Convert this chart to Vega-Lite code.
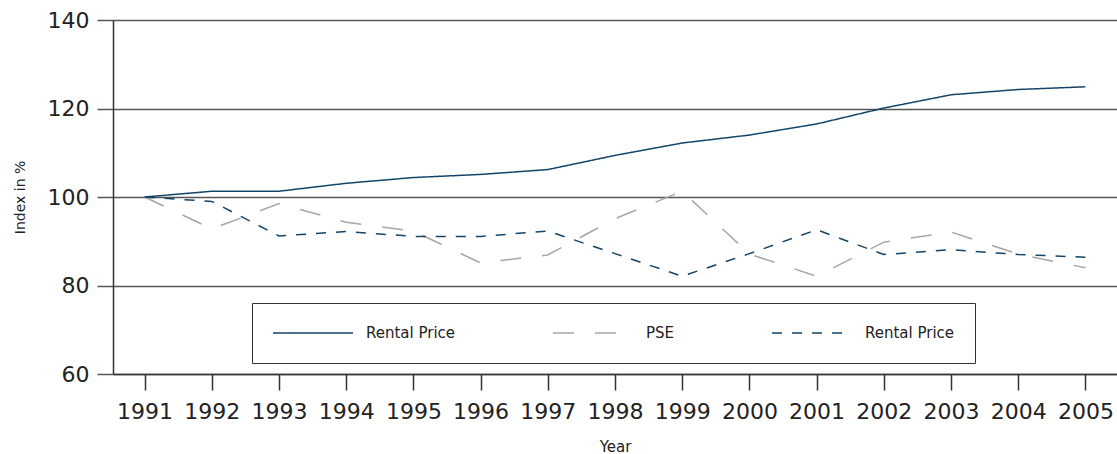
{
  "$schema": "https://vega.github.io/schema/vega-lite/v6.json",
  "autosize": {"type": "none"},
  "padding": {"left": 113, "top": 20, "right": 0, "bottom": 80},
  "width": 1004,
  "height": 354,
  "background": "white",
  "data": {
    "values": [
      {"year": "1991", "series": "Rental Price", "value": 100},
      {"year": "1992", "series": "Rental Price", "value": 101.3},
      {"year": "1993", "series": "Rental Price", "value": 101.3},
      {"year": "1994", "series": "Rental Price", "value": 103.1},
      {"year": "1995", "series": "Rental Price", "value": 104.4},
      {"year": "1996", "series": "Rental Price", "value": 105.1},
      {"year": "1997", "series": "Rental Price", "value": 106.2},
      {"year": "1998", "series": "Rental Price", "value": 109.4},
      {"year": "1999", "series": "Rental Price", "value": 112.2},
      {"year": "2000", "series": "Rental Price", "value": 114.0},
      {"year": "2001", "series": "Rental Price", "value": 116.5},
      {"year": "2002", "series": "Rental Price", "value": 120.1},
      {"year": "2003", "series": "Rental Price", "value": 123.1},
      {"year": "2004", "series": "Rental Price", "value": 124.3},
      {"year": "2005", "series": "Rental Price", "value": 124.9},
      {"year": "1991", "series": "PSE", "value": 100},
      {"year": "1992", "series": "PSE", "value": 92.8},
      {"year": "1993", "series": "PSE", "value": 98.5},
      {"year": "1994", "series": "PSE", "value": 94.3},
      {"year": "1995", "series": "PSE", "value": 92.3},
      {"year": "1996", "series": "PSE", "value": 85.1},
      {"year": "1997", "series": "PSE", "value": 86.9},
      {"year": "1998", "series": "PSE", "value": 95.1},
      {"year": "1999", "series": "PSE", "value": 101.3},
      {"year": "2000", "series": "PSE", "value": 87.1},
      {"year": "2001", "series": "PSE", "value": 82.1},
      {"year": "2002", "series": "PSE", "value": 89.8},
      {"year": "2003", "series": "PSE", "value": 92.1},
      {"year": "2004", "series": "PSE", "value": 87.1},
      {"year": "2005", "series": "PSE", "value": 84.0},
      {"year": "1991", "series": "Rental Price 2", "value": 100},
      {"year": "1992", "series": "Rental Price 2", "value": 99.0},
      {"year": "1993", "series": "Rental Price 2", "value": 91.2},
      {"year": "1994", "series": "Rental Price 2", "value": 92.2},
      {"year": "1995", "series": "Rental Price 2", "value": 91.1},
      {"year": "1996", "series": "Rental Price 2", "value": 91.1},
      {"year": "1997", "series": "Rental Price 2", "value": 92.3},
      {"year": "1998", "series": "Rental Price 2", "value": 87.2},
      {"year": "1999", "series": "Rental Price 2", "value": 82.1},
      {"year": "2000", "series": "Rental Price 2", "value": 87.2},
      {"year": "2001", "series": "Rental Price 2", "value": 92.6},
      {"year": "2002", "series": "Rental Price 2", "value": 87.0},
      {"year": "2003", "series": "Rental Price 2", "value": 88.1},
      {"year": "2004", "series": "Rental Price 2", "value": 87.0},
      {"year": "2005", "series": "Rental Price 2", "value": 86.4}
    ]
  },
  "mark": {"type": "line", "strokeWidth": 1.5},
  "encoding": {
    "x": {
      "field": "year",
      "type": "ordinal",
      "scale": {"type": "point", "padding": 0.47},
      "axis": {
        "title": "Year",
        "labelAngle": 0,
        "grid": false,
        "domain": true,
        "domainColor": "#333333",
        "domainWidth": 1.5,
        "tickColor": "#333333",
        "tickWidth": 1.5,
        "tickSize": 16,
        "labelPadding": 11,
        "labelFontSize": 22,
        "labelColor": "#222222",
        "titleFontSize": 15,
        "titleFontWeight": "normal",
        "titleColor": "#222222",
        "titlePadding": 17
      }
    },
    "y": {
      "field": "value",
      "type": "quantitative",
      "scale": {"domain": [60, 140], "nice": false, "zero": false},
      "axis": {
        "title": "Index in %",
        "values": [60, 80, 100, 120, 140],
        "grid": true,
        "gridColor": "#555555",
        "gridWidth": 1.5,
        "gridOpacity": 1,
        "domain": true,
        "domainColor": "#333333",
        "domainWidth": 1.5,
        "tickColor": "#555555",
        "tickWidth": 1.5,
        "tickSize": 16,
        "labelPadding": 8,
        "labelFontSize": 22,
        "labelColor": "#222222",
        "titleFontSize": 14,
        "titleFontWeight": "normal",
        "titleColor": "#222222",
        "titlePadding": 20
      }
    },
    "color": {
      "field": "series",
      "type": "nominal",
      "scale": {
        "domain": ["Rental Price", "PSE", "Rental Price 2"],
        "range": ["#144466", "#a6a6a6", "#144466"]
      },
      "legend": {"labelExpr": "replace(datum.label, ' 2', '')"}
    },
    "strokeDash": {
      "field": "series",
      "type": "nominal",
      "scale": {
        "domain": ["Rental Price", "PSE", "Rental Price 2"],
        "range": [[1, 0], [21, 21], [10, 10]]
      },
      "legend": {"labelExpr": "replace(datum.label, ' 2', '')"}
    }
  },
  "config": {
    "font": "DejaVu Sans",
    "view": {"stroke": null},
    "axis": {"labelFont": "DejaVu Sans", "titleFont": "DejaVu Sans"},
    "legend": {
      "orient": "none",
      "legendX": 139,
      "legendY": 283,
      "direction": "horizontal",
      "title": null,
      "strokeColor": "#333333",
      "fillColor": "white",
      "padding": 20,
      "clipHeight": 20,
      "symbolType": "stroke",
      "symbolSize": 6400,
      "symbolStrokeWidth": 1.5,
      "symbolOffset": 0,
      "labelOffset": 12,
      "labelFontSize": 15,
      "labelColor": "#222222",
      "labelFont": "DejaVu Sans",
      "columnPadding": 96
    }
  }
}
